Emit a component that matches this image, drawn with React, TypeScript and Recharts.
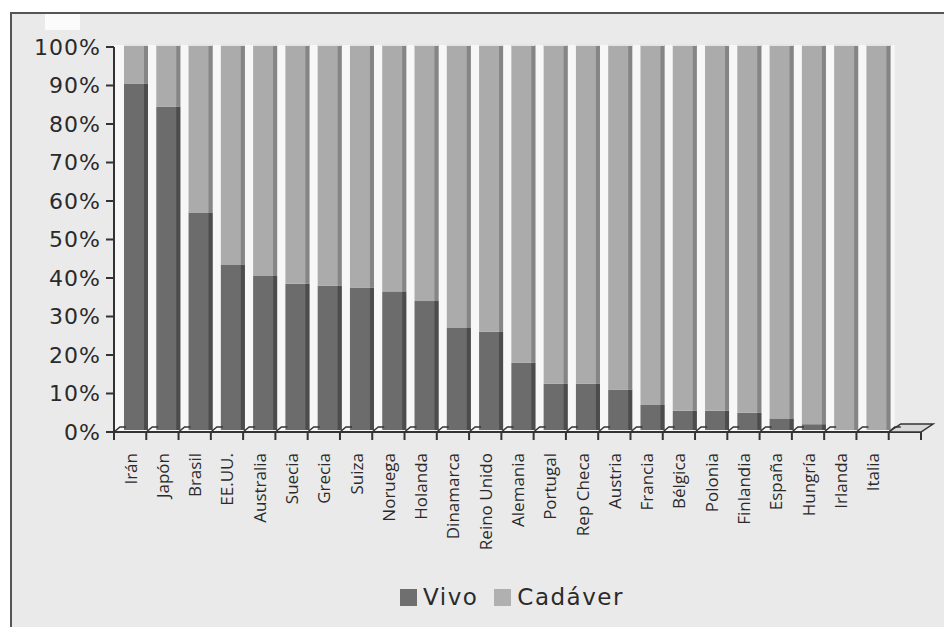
import { BarChart, Bar, XAxis, YAxis, CartesianGrid, Legend } from 'recharts'

const COUNTRIES = ['Irán', 'Japón', 'Brasil', 'EE.UU.', 'Australia', 'Suecia', 'Grecia', 'Suiza', 'Noruega', 'Holanda', 'Dinamarca', 'Reino Unido', 'Alemania', 'Portugal', 'Rep Checa', 'Austria', 'Francia', 'Bélgica', 'Polonia', 'Finlandia', 'España', 'Hungría', 'Irlanda', 'Italia']
const VIVO = [90, 84, 56.5, 43, 40, 38, 37.5, 37, 36, 33.5, 26.5, 25.5, 17.5, 12, 12, 10.5, 6.5, 5, 5, 4.5, 3, 1.5, 0, 0]
const CADAVER = [10, 16, 43.5, 57, 60, 62, 62.5, 63, 64, 66.5, 73.5, 74.5, 82.5, 88, 88, 89.5, 93.5, 95, 95, 95.5, 97, 98.5, 100, 100]
const Y_TICKS = [0, 10, 20, 30, 40, 50, 60, 70, 80, 90, 100]

const data = COUNTRIES.map((c, i) => ({ pais: c, vivo: VIVO[i], cadaver: CADAVER[i] }))

const W = 944
const H = 627
const PLOT_LEFT = 114
const PLOT_RIGHT = 921
const BAND = (PLOT_RIGHT - PLOT_LEFT) / 25
const AXIS = '#333'

const VIVO_FILL = '#6c6c6c'
const VIVO_SIDE = '#4c4c4c'
const CAD_FILL = '#ababab'
const CAD_SIDE = '#858585'

// fake 3d bar: front face shifted back into the depth, darker right side
function bar3d(fill: string, side: string, cap: boolean) {
  return (props: any) => {
    const { x, y, width, height } = props
    if (!height || height <= 0) return <g />
    const bx = x + 6
    const by = y - 2
    return (
      <g>
        <rect x={bx} y={by} width={width} height={height} fill={fill} />
        <rect x={bx + width - 4} y={by} width={4} height={height} fill={side} />
        {cap && <rect x={bx} y={by - 1} width={width} height={2} fill="#e4e4e4" />}
      </g>
    )
  }
}

function CountryTick(props: any) {
  const { x, y, payload, index } = props
  const left = x - BAND / 2
  const right = x + BAND / 2
  const last = index === COUNTRIES.length - 1
  const mark = (bx: number) => (
    <g key={bx}>
      <line x1={bx} y1={y} x2={bx} y2={y + 8} stroke={AXIS} strokeWidth={2} />
      <polyline points={`${bx},${y} ${bx + 6},${y - 5} ${bx + 12},${y - 5}`} fill="none" stroke={AXIS} strokeWidth={1.5} />
    </g>
  )
  return (
    <g>
      {mark(left)}
      {last && (
        <g>
          <polygon points={`${right},${y} ${right + BAND},${y} ${right + BAND + 12},${y - 8} ${right + 12},${y - 8}`} fill="#d8d8d8" stroke={AXIS} strokeWidth={1.5} />
          {mark(right)}
          <line x1={right + BAND} y1={y} x2={right + BAND} y2={y + 8} stroke={AXIS} strokeWidth={2} />
        </g>
      )}
      <text x={x} y={y + 21} transform={`rotate(-90 ${x} ${y + 21})`} textAnchor="end" dominantBaseline="central" fontFamily="'Open Sans', sans-serif" fontSize={17} fill="#2a2a2a">
        {payload.value}
      </text>
    </g>
  )
}

function LegendContent() {
  const items = [
    { label: 'Vivo', color: '#6f6f6f' },
    { label: 'Cadáver', color: '#b0b0b0' },
  ]
  return (
    <div style={{ display: 'flex', justifyContent: 'center', alignItems: 'center', fontFamily: "'DejaVu Sans', Verdana, sans-serif", fontSize: 23, letterSpacing: 1.5, color: '#2a2a2a' }}>
      {items.map((it) => (
        <span key={it.label} style={{ display: 'flex', alignItems: 'center', margin: '0 8px' }}>
          <span style={{ width: 17, height: 17, background: it.color, display: 'inline-block', marginRight: 6 }} />
          {it.label}
        </span>
      ))}
    </div>
  )
}

export default function App() {
  return (
    <div style={{ position: 'absolute', left: 0, top: 0, width: W, height: H, background: '#fff', overflow: 'hidden' }}>
      <div style={{ position: 'absolute', left: 10, top: 12, width: W, height: H, background: '#eaeaea', borderLeft: '2px solid #555', borderTop: '2px solid #555' }} />
      <div style={{ position: 'absolute', left: 45, top: 14, width: 35, height: 16, background: '#fbfbfb' }} />
      <div style={{ position: 'absolute', left: 0, top: 0 }}>
        <BarChart width={W} height={H} data={data} margin={{ top: 47, right: W - PLOT_RIGHT, bottom: 5, left: 14 }} barSize={24}>
          <CartesianGrid horizontal={false} vertical={false} fill="#f7f7f7" x={PLOT_LEFT} y={45} width={PLOT_RIGHT - PLOT_LEFT - BAND + 6} height={387} />
          <XAxis
            dataKey="pais"
            interval={0}
            height={190}
            padding={{ left: 0, right: BAND }}
            tickLine={false}
            tickSize={0}
            tickMargin={0}
            axisLine={{ stroke: AXIS, strokeWidth: 2 }}
            tick={<CountryTick />}
          />
          <YAxis
            width={100}
            domain={[0, 100]}
            ticks={Y_TICKS}
            interval={0}
            tickFormatter={(v) => `${v}%`}
            tickSize={8}
            tickMargin={5}
            axisLine={{ stroke: AXIS, strokeWidth: 2 }}
            tickLine={{ stroke: AXIS, strokeWidth: 2 }}
            tick={{ fontFamily: "'DejaVu Sans', Verdana, sans-serif", fontSize: 22, fill: '#2a2a2a', letterSpacing: 1 }}
          />
          <Bar dataKey="vivo" stackId="a" fill={VIVO_FILL} shape={bar3d(VIVO_FILL, VIVO_SIDE, false)} isAnimationActive={false} />
          <Bar dataKey="cadaver" stackId="a" fill={CAD_FILL} shape={bar3d(CAD_FILL, CAD_SIDE, true)} isAnimationActive={false} />
          <Legend verticalAlign="middle" align="center" layout="horizontal" wrapperStyle={{ top: 584, left: 40, width: W }} content={<LegendContent />} />
        </BarChart>
      </div>
    </div>
  )
}
